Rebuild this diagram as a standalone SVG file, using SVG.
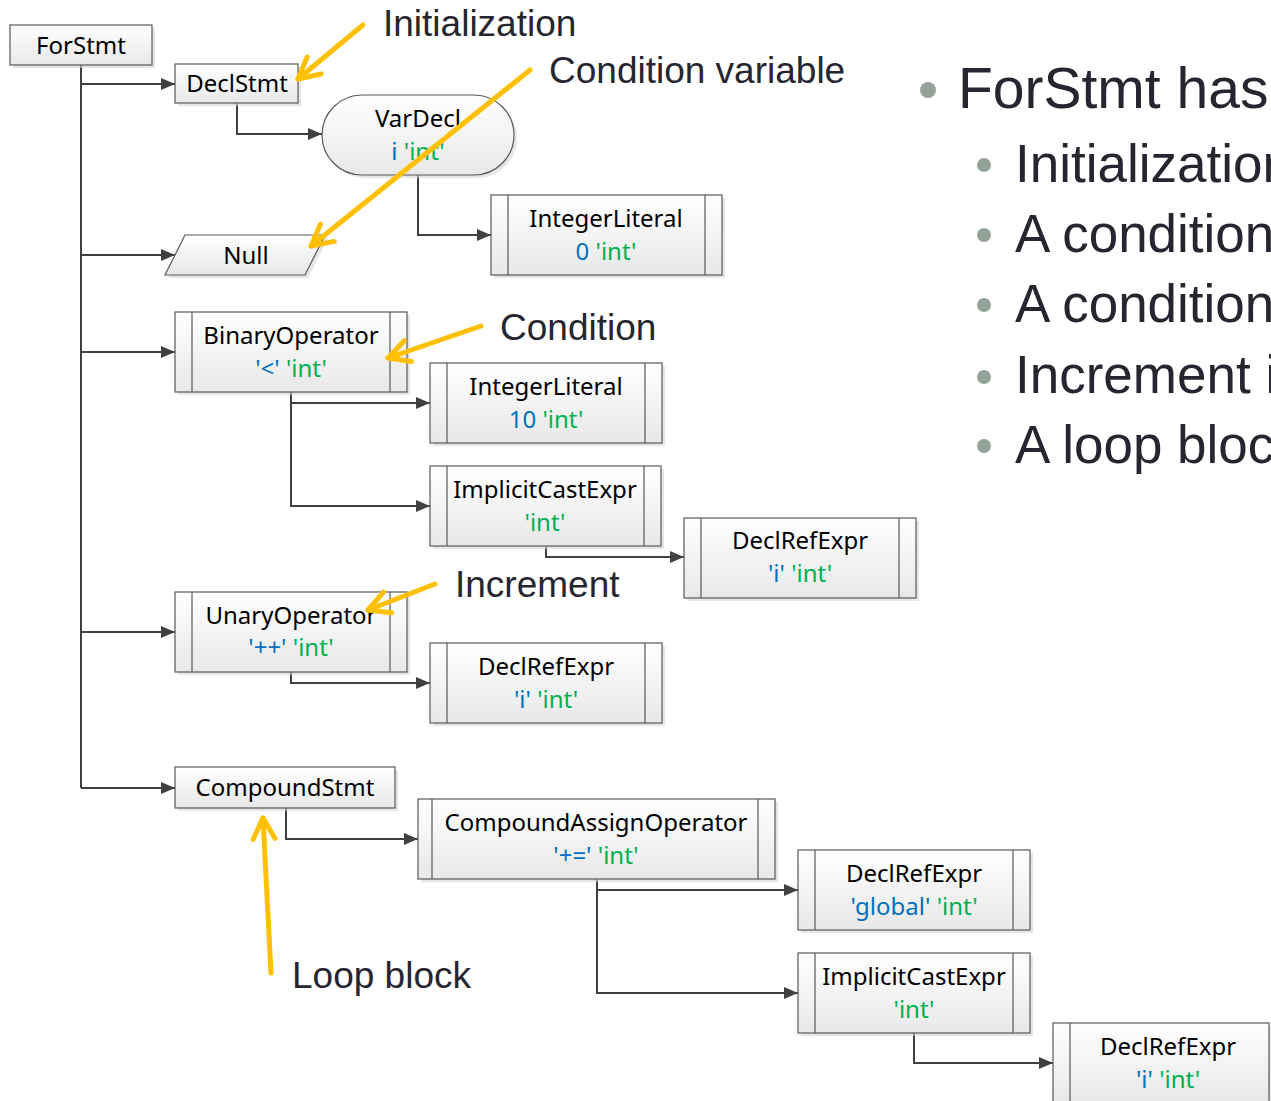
<svg xmlns="http://www.w3.org/2000/svg" width="1271" height="1101" viewBox="0 0 1271 1101">
<defs>
<linearGradient id="g" x1="0" y1="0" x2="0" y2="1"><stop offset="0" stop-color="#ffffff"/><stop offset="1" stop-color="#e8e8e8"/></linearGradient>
<marker id="ah" viewBox="0 0 14 12" refX="14" refY="6" markerWidth="14" markerHeight="12" markerUnits="userSpaceOnUse" orient="auto"><path d="M0 0 L14 6 L0 12 Z" fill="#404040"/></marker>
<marker id="ya" viewBox="-26 -15 30 30" refX="0" refY="0" markerWidth="30" markerHeight="30" markerUnits="userSpaceOnUse" orient="auto"><path d="M-21 -11 L0 0 L-21 11" fill="none" stroke="#FFC000" stroke-width="5" stroke-linecap="round" stroke-linejoin="round"/></marker>
</defs>
<style>
.n{fill:url(#g);stroke:#595959;stroke-width:1.2}
.s{fill:#d4d4d4;opacity:0.6}
.b{stroke:#595959;stroke-width:1.2}
.t{font-family:"Noto Sans",sans-serif;font-size:24px;fill:#000;text-anchor:middle}
.bl{fill:#0070C0}
.gr{fill:#00B050}
.c{fill:none;stroke:#404040;stroke-width:2;marker-end:url(#ah)}
.y{fill:none;stroke:#FFC000;stroke-width:5;stroke-linecap:round;marker-end:url(#ya)}
.a{font-family:"Liberation Sans",Arial,sans-serif;font-size:37px;fill:#262630}
.h{font-family:"Liberation Sans",Arial,sans-serif;fill:#262630}
.dot{fill:#94A39A}
</style>
<rect width="1271" height="1101" fill="#fff"/>
<g id="connectors">
<path d="M81 65 V788" fill="none" stroke="#404040" stroke-width="2"/>
<path class="c" d="M81 84 H175"/>
<path class="c" d="M81 255 H175"/>
<path class="c" d="M81 352 H175"/>
<path class="c" d="M81 632 H175"/>
<path class="c" d="M81 788 H175"/>
<path class="c" d="M237 103 V134 H322"/>
<path class="c" d="M418 175 V235 H491"/>
<path class="c" d="M291 392 V403 H430"/>
<path class="c" d="M291 392 V506 H430"/>
<path class="c" d="M546 546 V557 H684"/>
<path class="c" d="M291 672 V683 H430"/>
<path class="c" d="M286 808 V839 H418"/>
<path class="c" d="M597 879 V890 H798"/>
<path class="c" d="M597 879 V993 H798"/>
<path class="c" d="M914 1033 V1063 H1053"/>
</g>
<g id="ForStmt"><rect class="s" x="13" y="28" width="142" height="40"/><rect class="n" x="10" y="25" width="142" height="40"/><text class="t" x="81" y="54">ForStmt</text></g>
<g id="DeclStmt"><rect class="s" x="178" y="67" width="123" height="39"/><rect class="n" x="175" y="64" width="123" height="39"/><text class="t" x="237" y="92">DeclStmt</text></g>
<g id="VarDecl"><rect class="s" x="325" y="98" width="192" height="80" rx="40"/><rect class="n" x="322" y="95" width="192" height="80" rx="40"/><text class="t" x="418" y="127">VarDecl</text><text class="t" x="418" y="160"><tspan class="bl">i</tspan> <tspan class="gr">'int'</tspan></text></g>
<g id="IntegerLiteral0"><rect class="s" x="494" y="198" width="231" height="80"/><rect class="n" x="491" y="195" width="231" height="80"/><path class="b" d="M508 195 V275 M705 195 V275"/><text class="t" x="606" y="227">IntegerLiteral</text><text class="t" x="606" y="260"><tspan class="bl">0</tspan> <tspan class="gr">'int'</tspan></text></g>
<g id="Null"><path class="s" d="M188 238 L328 238 L308 278 L168 278 Z"/><path class="n" d="M185 235 L325 235 L305 275 L165 275 Z"/><text class="t" x="246" y="264">Null</text></g>
<g id="BinaryOperator"><rect class="s" x="178" y="315" width="232" height="80"/><rect class="n" x="175" y="312" width="232" height="80"/><path class="b" d="M192 312 V392 M390 312 V392"/><text class="t" x="291" y="344">BinaryOperator</text><text class="t" x="291" y="377"><tspan class="bl">'&lt;'</tspan> <tspan class="gr">'int'</tspan></text></g>
<g id="IntegerLiteral10"><rect class="s" x="433" y="366" width="232" height="80"/><rect class="n" x="430" y="363" width="232" height="80"/><path class="b" d="M447 363 V443 M645 363 V443"/><text class="t" x="546" y="395">IntegerLiteral</text><text class="t" x="546" y="428"><tspan class="bl">10</tspan> <tspan class="gr">'int'</tspan></text></g>
<g id="ImplicitCastExpr1"><rect class="s" x="433" y="469" width="231" height="80"/><rect class="n" x="430" y="466" width="231" height="80"/><path class="b" d="M447 466 V546 M644 466 V546"/><text class="t" x="545" y="498">ImplicitCastExpr</text><text class="t" x="545" y="531"><tspan class="gr">'int'</tspan></text></g>
<g id="DeclRefExpr1"><rect class="s" x="687" y="521" width="232" height="80"/><rect class="n" x="684" y="518" width="232" height="80"/><path class="b" d="M701 518 V598 M899 518 V598"/><text class="t" x="800" y="549">DeclRefExpr</text><text class="t" x="800" y="582"><tspan class="bl">'i'</tspan> <tspan class="gr">'int'</tspan></text></g>
<g id="UnaryOperator"><rect class="s" x="178" y="595" width="232" height="80"/><rect class="n" x="175" y="592" width="232" height="80"/><path class="b" d="M192 592 V672 M390 592 V672"/><text class="t" x="291" y="624">UnaryOperator</text><text class="t" x="291" y="656"><tspan class="bl">'++'</tspan> <tspan class="gr">'int'</tspan></text></g>
<g id="DeclRefExpr2"><rect class="s" x="433" y="646" width="232" height="80"/><rect class="n" x="430" y="643" width="232" height="80"/><path class="b" d="M447 643 V723 M645 643 V723"/><text class="t" x="546" y="675">DeclRefExpr</text><text class="t" x="546" y="708"><tspan class="bl">'i'</tspan> <tspan class="gr">'int'</tspan></text></g>
<g id="CompoundStmt"><rect class="s" x="178" y="770" width="220" height="41"/><rect class="n" x="175" y="767" width="220" height="41"/><text class="t" x="285" y="796">CompoundStmt</text></g>
<g id="CompoundAssignOperator"><rect class="s" x="421" y="802" width="357" height="80"/><rect class="n" x="418" y="799" width="357" height="80"/><path class="b" d="M432 799 V879 M758 799 V879"/><text class="t" x="596" y="831">CompoundAssignOperator</text><text class="t" x="596" y="864"><tspan class="bl">'+='</tspan> <tspan class="gr">'int'</tspan></text></g>
<g id="DeclRefExprGlobal"><rect class="s" x="801" y="853" width="232" height="80"/><rect class="n" x="798" y="850" width="232" height="80"/><path class="b" d="M815 850 V930 M1013 850 V930"/><text class="t" x="914" y="882">DeclRefExpr</text><text class="t" x="914" y="915"><tspan class="bl">'global'</tspan> <tspan class="gr">'int'</tspan></text></g>
<g id="ImplicitCastExpr2"><rect class="s" x="801" y="956" width="232" height="80"/><rect class="n" x="798" y="953" width="232" height="80"/><path class="b" d="M815 953 V1033 M1013 953 V1033"/><text class="t" x="914" y="985">ImplicitCastExpr</text><text class="t" x="914" y="1018"><tspan class="gr">'int'</tspan></text></g>
<g id="DeclRefExpr3"><rect class="s" x="1056" y="1026" width="216" height="80"/><rect class="n" x="1053" y="1023" width="216" height="80"/><path class="b" d="M1070 1023 V1103"/><text class="t" x="1168" y="1055">DeclRefExpr</text><text class="t" x="1168" y="1088"><tspan class="bl">'i'</tspan> <tspan class="gr">'int'</tspan></text></g>
<g id="annotations">
<path class="y" d="M363 25 L298 79"/>
<path class="y" d="M530 70 L311 246"/>
<path class="y" d="M481 326 L388 358"/>
<path class="y" d="M435 584 L368 610"/>
<path class="y" d="M271 973 L263 818"/>
<text class="a" x="383" y="36">Initialization</text>
<text class="a" x="549" y="83">Condition variable</text>
<text class="a" x="500" y="340">Condition</text>
<text class="a" x="455" y="597">Increment</text>
<text class="a" x="292" y="988">Loop block</text>
</g>
<g id="bullets">
<circle class="dot" cx="928" cy="90" r="8"/>
<text class="h" x="958" y="108" font-size="57">ForStmt has</text>
<circle class="dot" cx="984" cy="165" r="7"/>
<text class="h" x="1015" y="182" font-size="53">Initialization</text>
<circle class="dot" cx="984" cy="235" r="7"/>
<text class="h" x="1015" y="252" font-size="53">A condition</text>
<circle class="dot" cx="984" cy="305" r="7"/>
<text class="h" x="1015" y="322" font-size="53">A condition</text>
<circle class="dot" cx="984" cy="377" r="7"/>
<text class="h" x="1015" y="393" font-size="53">Increment i</text>
<circle class="dot" cx="984" cy="446" r="7"/>
<text class="h" x="1015" y="463" font-size="53">A loop bloc</text>
</g>
</svg>
